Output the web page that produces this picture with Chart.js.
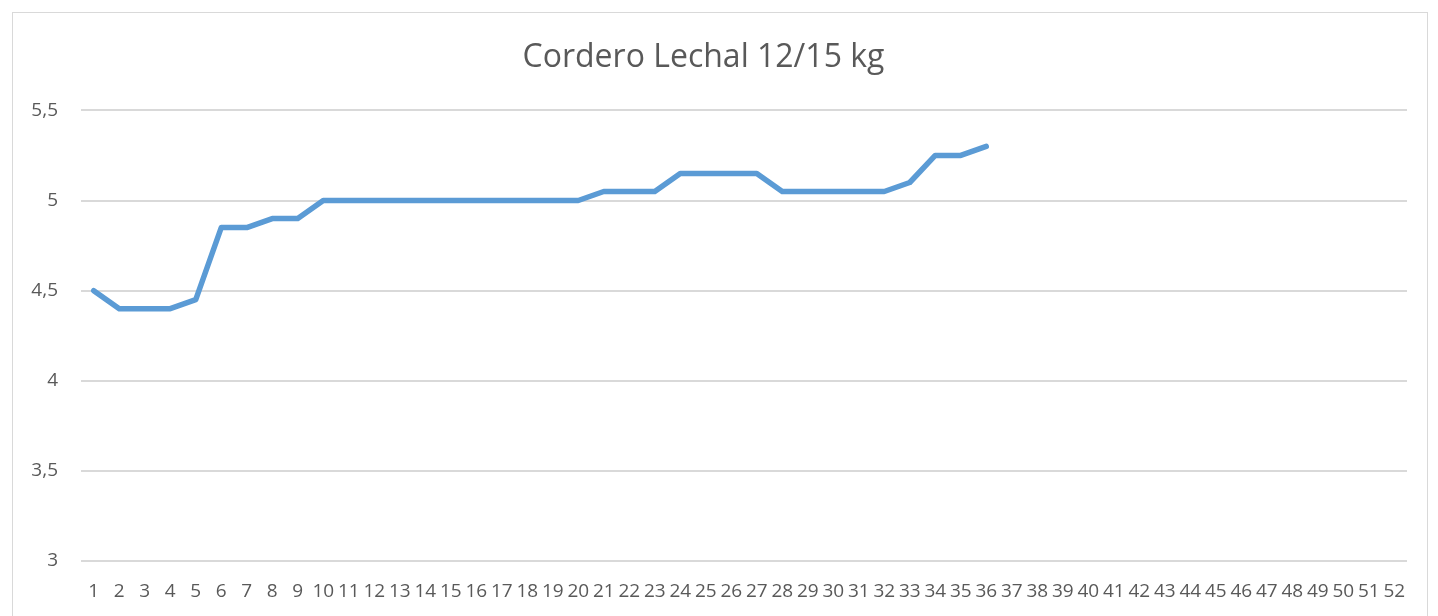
<!DOCTYPE html>
<html>
<head>
<meta charset="utf-8">
<script src="https://cdn.jsdelivr.net/npm/chart.js@4.4.0/dist/chart.umd.min.js"></script>
<style>
    html, body { margin: 0; padding: 0; background: #fff; overflow: hidden; }
    #frame {
        position: absolute; left: 12px; top: 12px;
        width: 1414px; height: 640px;
        border: 1px solid #d9d9d9;
    }
    #wrap { position: absolute; left: 0; top: 0; width: 1438px; height: 616px; }
</style>
</head>
<body>
<div id="frame"></div>
<div id="wrap"><canvas id="chart"></canvas></div>
<script>
// Semanas
const weeks = ['1','2','3','4','5','6','7','8','9','10','11','12','13','14','15','16','17','18','19','20',
    '21','22','23','24','25','26','27','28','29','30','31','32','33','34','35','36','37','38','39','40',
    '41','42','43','44','45','46','47','48','49','50','51','52'];

// Precio €/kg
const prices = [4.5, 4.4, 4.4, 4.4, 4.45, 4.85, 4.85, 4.9, 4.9, 5, 5, 5, 5, 5, 5, 5, 5, 5, 5, 5,
    5.05, 5.05, 5.05, 5.15, 5.15, 5.15, 5.15, 5.05, 5.05, 5.05, 5.05, 5.05, 5.1, 5.25, 5.25, 5.3];

const yMin = 3;
const yMax = 5.5;
const yStep = 0.5;

const textColor = '#595959';
const gridColor = '#d9d9d9';

new Chart(document.getElementById('chart'), {
    type: 'line',
    data: {
        labels: weeks,
        datasets: [{
            label: 'Cordero Lechal 12/15 kg',
            data: prices,
            borderColor: '#5b9bd5',
            borderWidth: 5.5,
            pointRadius: 0,
            tension: 0,
            borderJoinStyle: 'round',
            borderCapStyle: 'round'
        }]
    },
    options: {
        responsive: true,
        maintainAspectRatio: false,
        animation: false,
        layout: { padding: { left: 0, right: 31, top: 0, bottom: 0 } },
        plugins: {
            legend: { display: false },
            tooltip: { enabled: false },
            title: {
                display: true,
                text: 'Cordero Lechal 12/15 kg',
                color: textColor,
                font: { family: "'Open Sans', sans-serif", size: 32, weight: 'normal', lineHeight: 1.2 },
                padding: { top: 39, bottom: 33 }
            }
        },
        scales: {
            x: {
                offset: true,
                grid: { display: false, drawTicks: false },
                border: { display: false },
                ticks: {
                    autoSkip: false,
                    maxRotation: 0,
                    minRotation: 0,
                    padding: 19,
                    color: textColor,
                    font: { family: "'Open Sans', sans-serif", size: 19 }
                },
                afterFit: function(s) { s.height = 55; }
            },
            y: {
                min: yMin,
                max: yMax,
                grid: { color: gridColor, lineWidth: 2, drawTicks: false },
                border: { display: false },
                ticks: {
                    stepSize: yStep,
                    padding: 23,
                    color: textColor,
                    font: { family: "'Open Sans', sans-serif", size: 19 },
                    callback: function(v) { return String(v).replace('.', ','); }
                },
                afterFit: function(s) { s.width = 81; }
            }
        }
    }
});
</script>
</body>
</html>
